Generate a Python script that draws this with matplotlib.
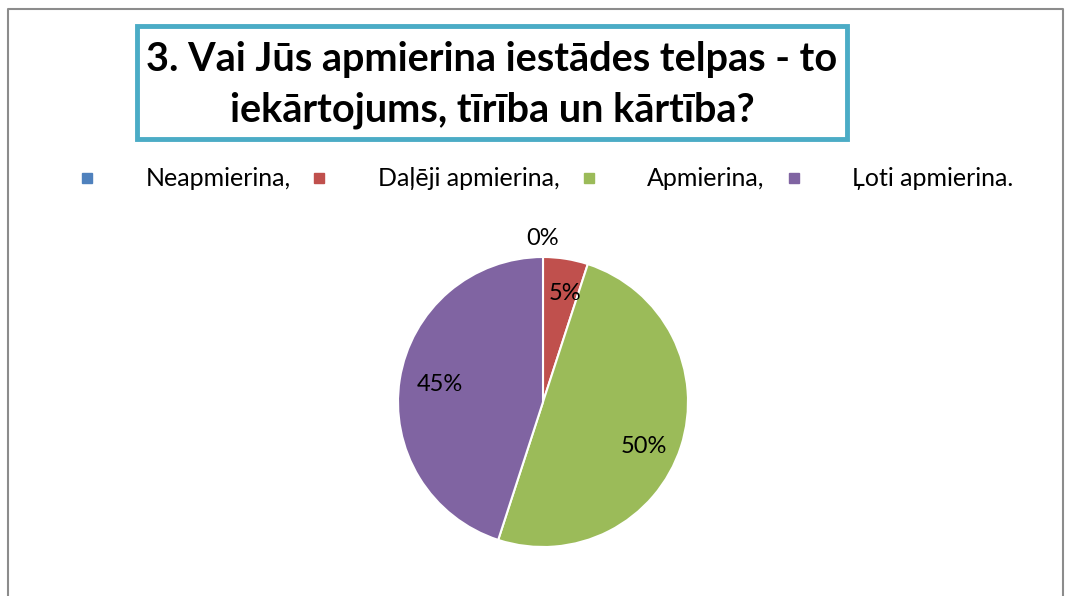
import matplotlib
matplotlib.use("Agg")
import matplotlib.pyplot as plt
from matplotlib.lines import Line2D
from matplotlib.patches import Rectangle
import numpy as np

plt.rcParams['font.family'] = ['Lato', 'DejaVu Sans']

title = "3. Vai Jūs apmierina iestādes telpas - to\niekārtojums, tīrība un kārtība?"
categories = ["Neapmierina,", "Daļēji apmierina,", "Apmierina,", "Ļoti apmierina."]
values = [0, 5, 50, 45]
colors = ["#4F81BD", "#C0504D", "#9BBB59", "#8064A2"]

W, H = 1067, 596
fig = plt.figure(figsize=(W / 100, H / 100), dpi=100)
fig.patch.set_facecolor("white")

# outer chart border (left, top, right)
fig.add_artist(Line2D([8 / W, 8 / W, 1063 / W, 1063 / W], [0, 1 - 9 / H, 1 - 9 / H, 0],
                      transform=fig.transFigure, color="#8C8C8C", lw=1.5))

# title box
fig.add_artist(Rectangle((137 / W, 1 - 139 / H), (847 - 137) / W, (139 - 26) / H,
                         transform=fig.transFigure, fill=False, edgecolor="#4BACC6", lw=3.5))
fig.text(492 / W, 1 - 85 / H, title, ha="center", va="center", fontsize=28.5,
         fontweight="bold", linespacing=1.42, color="black")

# pie
cx, cy, r = 543, 402, 145
ax = fig.add_axes([(cx - r) / W, (H - cy - r) / H, 2 * r / W, 2 * r / H])
wedges, _ = ax.pie(values, colors=colors, startangle=90, counterclock=False,
                   wedgeprops=dict(edgecolor="white", linewidth=1.5), radius=1.0)
ax.set_xlim(-1, 1)
ax.set_ylim(-1, 1)
ax.set_aspect("equal")
ax.axis("off")

total = sum(values)
ang = 90.0
for v in values:
    frac = v / total
    mid = ang - frac * 360 / 2
    ang -= frac * 360
    rr = 1.13 if v == 0 else 0.76
    if v == 50:
        mid -= 6
    x, y = rr * np.cos(np.radians(mid)), rr * np.sin(np.radians(mid))
    if v == 5:
        x += 0.03
    if v == 45:
        x += 0.04
    ax.text(x, y, f"{v}%", ha="center", va="center", fontsize=17, color="black")

# legend
handles = [Line2D([], [], marker="s", linestyle="none", markersize=7,
                  markerfacecolor=c, markeredgecolor=c) for c in colors]
leg = fig.legend(handles, categories, loc="center", bbox_to_anchor=(545 / W, 1 - 179 / H),
                 ncol=4, frameon=False, fontsize=18, handletextpad=1.95,
                 columnspacing=0.75, handlelength=0.8)

fig.savefig("out.png", dpi=100, facecolor="white")
